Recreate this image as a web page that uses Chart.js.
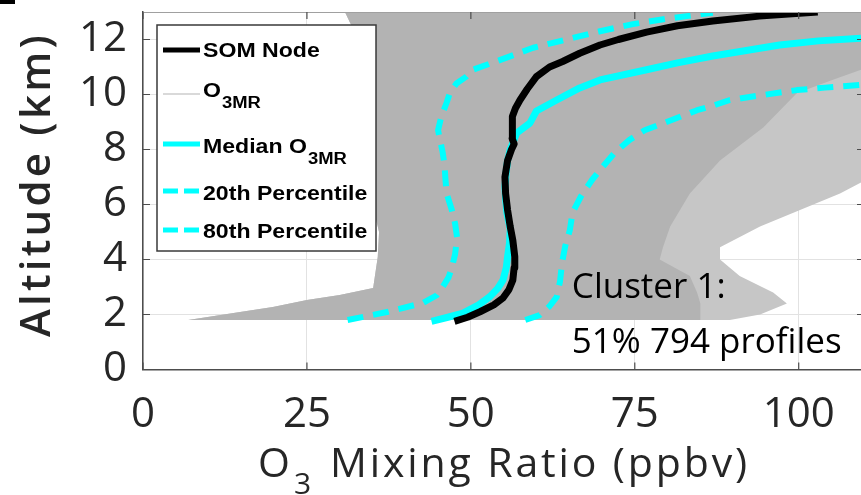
<!DOCTYPE html>
<html>
<head>
<meta charset="utf-8">
<script src="https://cdn.jsdelivr.net/npm/chart.js@4.4.1/dist/chart.umd.min.js"></script>
<style>
  html, body { margin: 0; padding: 0; background: #fff; }
  #wrap { width: 861px; height: 495px; }
</style>
</head>
<body>
<div id="wrap"><canvas id="profilChart" width="861" height="495"></canvas></div>
<script>
// profils verticaux : altitude (km) et O3 (ppbv)
const somAlt = [1.75, 1.9, 2.1, 2.35, 2.6, 2.9, 3.25, 3.7, 4.1, 4.7, 5.2, 5.8, 6.4, 7.0, 7.6, 8.0, 8.2, 8.4, 8.6, 8.9, 9.2, 9.5, 9.8, 10.2, 10.65, 11.0, 11.2, 11.5, 11.8, 12.0, 12.27, 12.5, 12.67, 12.85, 13.0];
const somO3 = [47.5, 49.5, 51.4, 53.5, 54.9, 55.8, 56.4, 56.6, 56.7, 56.4, 56.0, 55.6, 55.3, 55.2, 55.6, 56.2, 56.6, 56.3, 56.3, 56.3, 56.4, 56.8, 57.5, 58.6, 60.0, 62.0, 64.0, 66.6, 69.7, 72.5, 76.8, 81.5, 86.9, 94.0, 102.9];

const medAlt = [1.75, 1.9, 2.05, 2.35, 2.65, 2.95, 3.25, 3.7, 4.1, 4.6, 5.1, 5.7, 6.2, 6.65, 7.2, 7.6, 8.0, 8.6, 8.96, 9.4, 9.8, 10.24, 10.53, 10.9, 11.15, 11.4, 11.6, 11.8, 11.95, 12.05];
const medO3 = [44.0, 46.5, 48.8, 51.2, 52.9, 54.1, 54.9, 55.4, 55.6, 55.9, 56.0, 55.5, 55.3, 55.2, 55.4, 55.6, 56.0, 57.0, 59.0, 60.0, 63.1, 66.6, 69.7, 76.8, 81.5, 86.9, 92.0, 97.1, 103.0, 109.5];

const p20Alt = [1.8, 2.09, 2.42, 2.7, 3.0, 3.35, 3.7, 4.2, 4.8, 5.3, 5.8, 6.4, 7.0, 7.4, 7.9, 8.35, 8.7, 9.2, 9.7, 10.05, 10.4, 10.65, 10.9, 11.25, 11.7, 12.0, 12.3, 12.56, 12.77, 12.97];
const p20O3 = [31.2, 37.2, 42.7, 44.8, 45.7, 46.6, 47.1, 47.6, 47.9, 47.6, 47.1, 46.3, 46.1, 46.0, 45.7, 45.3, 45.0, 45.5, 46.3, 46.8, 47.8, 49.3, 50.3, 54.4, 59.5, 64.6, 69.7, 74.7, 80.3, 86.9];

const p80Alt = [1.8, 1.98, 2.3, 2.64, 3.2, 3.87, 4.5, 5.07, 5.7, 6.3, 6.9, 7.37, 7.9, 8.35, 8.7, 8.95, 9.2, 9.43, 9.6, 9.8, 9.98, 10.16, 10.25, 10.35];
const p80O3 = [58.3, 60.5, 62.0, 63.1, 63.6, 63.9, 64.4, 65.1, 65.5, 66.8, 68.5, 70.1, 72.0, 74.2, 76.5, 79.3, 82.0, 84.5, 87.0, 89.5, 94.5, 99.7, 104.0, 109.3];

// enveloppe des 794 profils O3MR (zone grise dense + bord clairseme)
const grisGaucheAlt = [1.8, 2.09, 2.27, 2.53, 2.71, 2.96, 4.09, 5.0, 6.0, 8.0, 10.0, 12.0, 12.6, 13.0];
const grisGaucheO3 = [6.9, 14.8, 19.8, 25.0, 30.0, 35.1, 35.8, 36.0, 35.0, 34.0, 34.0, 33.0, 31.6, 30.8];
const grisDroiteAlt = [1.8, 2.4, 2.8, 3.4, 4.0, 4.45, 5.2, 5.8, 6.4, 7.6, 8.8, 10.05, 10.5, 10.9, 13.0];
const grisDroiteO3 = [85.0, 85.0, 84.5, 83.4, 78.8, 79.3, 80.4, 81.9, 83.4, 88.0, 94.6, 99.7, 104.8, 109.5, 109.5];
const bordAlt = [1.8, 2.0, 2.4, 2.8, 3.4, 4.0, 4.45, 5.2, 5.8, 6.4, 6.8, 13.0];
const bordO3 = [89.5, 94.1, 98.2, 96.1, 91.0, 88.0, 88.0, 94.1, 100.2, 106.3, 109.5, 109.5];

const xTicks = [0, 25, 50, 75, 100];
const yTicks = [0, 2, 4, 6, 8, 10, 12];

function toPts(xs, ys) {
  return ys.map((y, i) => ({ x: xs[i], y: y }));
}

const CYAN = '#00ffff';
const GRIS = '#b3b3b3';

const datasets = [
  { label: 'SOM Node', data: toPts(somO3, somAlt), borderColor: '#000', borderWidth: 7, fill: false },
  { label: 'Median O3MR', data: toPts(medO3, medAlt), borderColor: CYAN, borderWidth: 7, fill: false },
  { label: '20th Percentile', data: toPts(p20O3, p20Alt), borderColor: CYAN, borderWidth: 6, borderDash: [16, 10], fill: false },
  { label: '80th Percentile', data: toPts(p80O3, p80Alt), borderColor: CYAN, borderWidth: 6, borderDash: [16, 10], fill: false },
  { label: 'O3MR', data: toPts(grisGaucheO3, grisGaucheAlt), borderColor: 'rgba(0,0,0,0)', borderWidth: 1, backgroundColor: GRIS, fill: 5 },
  { label: 'O3MR droite', data: toPts(grisDroiteO3, grisDroiteAlt), borderColor: 'rgba(0,0,0,0)', borderWidth: 1, fill: false },
  { label: 'O3MR bord', data: toPts(bordO3, bordAlt), borderColor: 'rgba(0,0,0,0)', borderWidth: 1, backgroundColor: '#c6c6c6', fill: 4 }
];

// entrees de la legende (dessinee a la main dans le cadre)
const legende = [
  { ds: 0, texte: 'SOM Node', sub: '', ligne: 50, base: 57, largeur: 5 },
  { ds: 4, texte: 'O', sub: '3MR', ligne: 94, base: 97, couleur: GRIS, largeur: 1 },
  { ds: 1, texte: 'Median O', sub: '3MR', ligne: 144, base: 153, largeur: 5 },
  { ds: 2, texte: '20th Percentile', sub: '', ligne: 191, base: 200, largeur: 5 },
  { ds: 3, texte: '80th Percentile', sub: '', ligne: 230, base: 238, largeur: 5 }
];

const AXE = '#4d4d4d';

function texteEtire(c, txt, x, y, sx) {
  c.save();
  c.translate(x, y);
  c.scale(sx, 1);
  c.fillText(txt, 0, 0);
  const w = c.measureText(txt).width * sx;
  c.restore();
  return w;
}

function texteEspace(c, txt, x, y, cible) {
  c.letterSpacing = '0px';
  const w = c.measureText(txt).width;
  const esp = (cible - w) / txt.length;
  c.letterSpacing = esp + 'px';
  c.fillText(txt, x, y);
  c.letterSpacing = '0px';
}

const decor = {
  id: 'decor',
  beforeDraw(chart) {
    const c = chart.ctx;
    c.save();
    c.fillStyle = '#fff';
    c.fillRect(0, 0, chart.width, chart.height);
    c.restore();
  },
  afterDraw(chart) {
    const c = chart.ctx;
    const a = chart.chartArea;
    const sx = chart.scales.x, sy = chart.scales.y;
    c.save();

    // cadre du haut
    c.strokeStyle = '#a0a0a0';
    c.lineWidth = 1;
    c.beginPath();
    c.moveTo(a.left, a.top + 0.5);
    c.lineTo(a.right, a.top + 0.5);
    c.stroke();

    // petites graduations vers l'interieur
    c.strokeStyle = AXE;
    c.lineWidth = 1.2;
    c.beginPath();
    xTicks.forEach(v => {
      const px = sx.getPixelForValue(v);
      c.moveTo(px, a.bottom); c.lineTo(px, a.bottom - 7);
      c.moveTo(px, a.top); c.lineTo(px, a.top + 7);
    });
    yTicks.forEach(v => {
      const py = sy.getPixelForValue(v);
      c.moveTo(a.left, py); c.lineTo(a.left + 7, py);
      c.moveTo(a.right, py); c.lineTo(a.right - 4, py);
    });
    c.stroke();

    // legende
    const L = { x: 157, y: 25, w: 219, h: 226 };
    c.fillStyle = '#fff';
    c.fillRect(L.x, L.y, L.w, L.h);
    c.strokeStyle = '#3a3a3a';
    c.lineWidth = 1.5;
    c.strokeRect(L.x, L.y, L.w, L.h);
    legende.forEach(it => {
      const ds = chart.data.datasets[it.ds];
      c.save();
      c.strokeStyle = it.couleur || ds.borderColor;
      c.lineWidth = it.largeur || ds.borderWidth;
      c.setLineDash(ds.borderDash ? [15, 6] : []);
      c.lineCap = 'butt';
      c.beginPath();
      c.moveTo(163, it.ligne);
      c.lineTo(200, it.ligne);
      c.stroke();
      c.restore();
      c.fillStyle = '#000';
      c.textAlign = 'left';
      c.textBaseline = 'alphabetic';
      c.font = 'bold 21px "Liberation Sans", Arial, sans-serif';
      const w = texteEtire(c, it.texte, 203, it.base, 1.1);
      if (it.sub) {
        c.font = 'bold 16px "Liberation Sans", Arial, sans-serif';
        texteEtire(c, it.sub, 203 + w + 1, it.base + 11, 1.15);
      }
    });

    // texte du cluster
    c.fillStyle = '#000';
    c.font = '35px "Open Sans", sans-serif';
    c.textAlign = 'left';
    c.textBaseline = 'alphabetic';
    c.fillText('Cluster 1:', sx.getPixelForValue(65.4), sy.getPixelForValue(2.6));
    c.fillText('51% 794 profiles', sx.getPixelForValue(65.4), sy.getPixelForValue(0.6));

    // titres des axes
    c.fillStyle = '#262626';
    c.font = '41px "Open Sans", sans-serif';
    c.fillText('O', 258, 477);
    c.font = '30px "Open Sans", sans-serif';
    c.fillText('3', 294, 494);
    c.font = '41px "Open Sans", sans-serif';
    texteEspace(c, 'Mixing Ratio (ppbv)', 330, 477, 420);

    c.save();
    c.translate(50, 337);
    c.rotate(-Math.PI / 2);
    c.font = '600 42px "Open Sans", sans-serif';
    texteEspace(c, 'Altitude (km)', 0, 0, 305);
    c.restore();

    // petite marque noire en haut a gauche
    c.fillStyle = '#000';
    c.fillRect(0, 0, 15, 4);
    c.restore();
  }
};

const ctx = document.getElementById('profilChart');
const monChart = new Chart(ctx, {
  type: 'line',
  data: { datasets: datasets },
  options: {
    indexAxis: 'y',
    responsive: false,
    animation: false,
    events: [],
    layout: { padding: { top: 12, left: 0, right: 0, bottom: 0 } },
    elements: {
      point: { radius: 0 },
      line: { tension: 0, borderCapStyle: 'butt', borderJoinStyle: 'round' }
    },
    plugins: {
      legend: { display: false },
      tooltip: { enabled: false }
    },
    scales: {
      x: {
        type: 'linear',
        position: 'bottom',
        min: 0,
        max: 109.5,
        afterFit: s => { s.height = 125.5; s.paddingLeft = 0; s.paddingRight = 0; },
        afterBuildTicks: s => { s.ticks = xTicks.map(v => ({ value: v })); },
        ticks: {
          padding: 20,
          color: '#262626',
          font: { family: '"Open Sans", sans-serif', size: 42 }
        },
        grid: { color: '#e2e2e2', lineWidth: 1, drawTicks: false },
        border: { color: AXE, width: 1.5 }
      },
      y: {
        type: 'linear',
        position: 'left',
        min: 0,
        max: 13,
        afterFit: s => { s.width = 143; s.paddingTop = 0; s.paddingBottom = 0; },
        afterBuildTicks: s => { s.ticks = yTicks.map(v => ({ value: v })); },
        ticks: {
          padding: 16,
          color: '#262626',
          font: { family: '"Open Sans", sans-serif', size: 42 }
        },
        grid: { color: '#e2e2e2', lineWidth: 1, drawTicks: false },
        border: { color: AXE, width: 1.5 }
      }
    }
  },
  plugins: [decor]
});
</script>
</body>
</html>
